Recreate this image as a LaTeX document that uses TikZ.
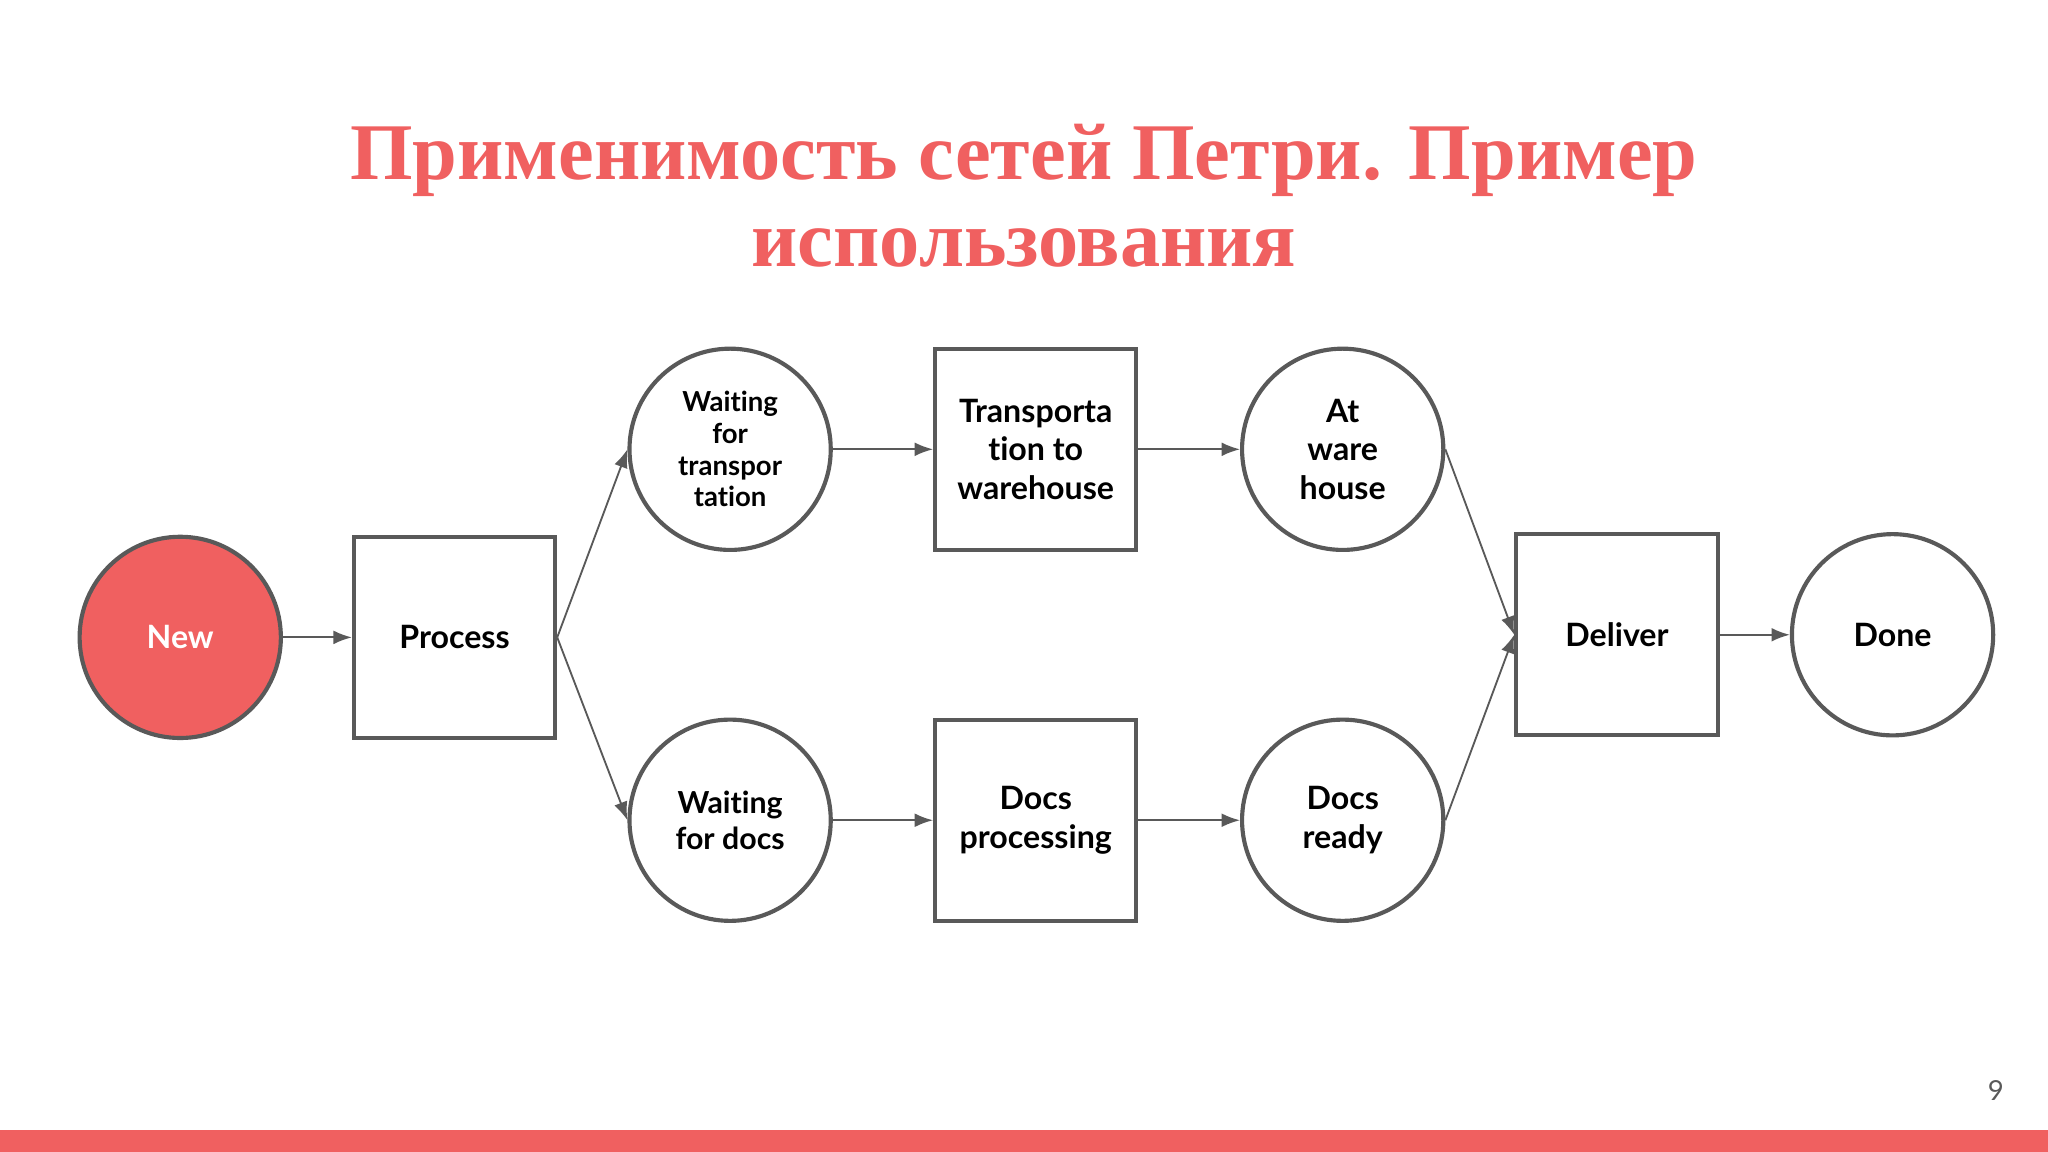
\documentclass[tikz,border=0pt]{standalone}
\usepackage{fontspec}
\setmainfont{Lato}[Ligatures={NoCommon,NoDiscretionary,NoRare}]
\newfontfamily\titlefont{Liberation Serif}
\usetikzlibrary{arrows.meta}
\definecolor{accent}{HTML}{F06060}
\definecolor{edge}{HTML}{595959}
\begin{document}
\begin{tikzpicture}[x=0.01cm,y=-0.01cm,
  place/.style={circle,draw=edge,line width=0.9pt,minimum size=1.54cm,inner sep=0pt,align=center,font=\bfseries\fontsize{7}{8.4}\selectfont},
  trans/.style={rectangle,draw=edge,line width=0.9pt,minimum size=1.54cm,inner sep=0pt,align=center,font=\bfseries\fontsize{7}{8.4}\selectfont},
  conn/.style={draw=edge,line width=0.4pt,-{Latex[length=4pt,width=3pt]}}]
\fill[white] (0,0) rectangle (1568,882);
\fill[accent] (0,865) rectangle (1568,882);
\node[font=\titlefont\bfseries\fontsize{17.5}{20}\selectfont,text=accent,align=center] (title) at (784,150) {Применимость сетей Петри. Пример\\[-1pt]использования};
\node[text=edge,font=\fontsize{6}{7}\selectfont] (pg) at (1528,835) {9};
\node[place,fill=accent,text=white,font=\fontsize{7}{8.4}\selectfont\bfseries] (new) at (138,488) {New};
\node[trans] (proc) at (348,488) {Process};
\node[place,font=\bfseries\fontsize{6}{6.9}\selectfont] (wt) at (559,344) {Waiting\\for\\transpor\\tation};
\node[trans] (tr) at (793,344) {Transporta\\tion to\\warehouse};
\node[place] (aw) at (1028,344) {At\\ware\\house};
\node[place,font=\bfseries\fontsize{6.6}{7.8}\selectfont] (wd) at (559,628) {Waiting\\for docs};
\node[trans] (dp) at (793,628) {Docs\\processing};
\node[place] (dr) at (1028,628) {Docs\\ready};
\node[trans] (del) at (1238,486) {Deliver};
\node[place] (done) at (1449,486) {Done};
\draw[conn] (new) -- (proc);
\draw[conn] (proc.east) -- (wt.west);
\draw[conn] (proc.east) -- (wd.west);
\draw[conn] (wt) -- (tr);
\draw[conn] (tr) -- (aw);
\draw[conn] (wd) -- (dp);
\draw[conn] (dp) -- (dr);
\draw[conn] (aw.east) -- (del.west);
\draw[conn] (dr.east) -- (del.west);
\draw[conn] (del) -- (done);
\end{tikzpicture}
\end{document}
